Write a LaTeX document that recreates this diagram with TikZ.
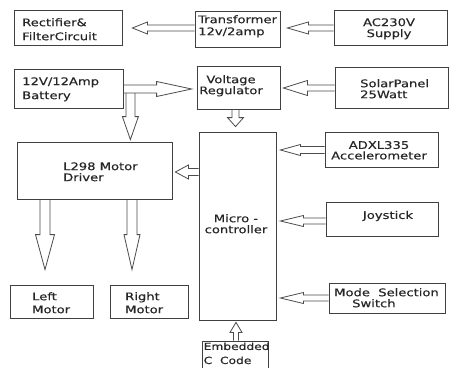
\documentclass[tikz,border=0pt]{standalone}
\usepackage{fontspec}
\newfontfamily\df[FakeStretch=1.25,FakeBold=0.3]{DejaVu Sans}
\usetikzlibrary{calc}
\tikzset{
  box/.style={draw=black!75, line width=0.8pt, inner sep=0pt},
  txt/.style={inner sep=0pt, text=black!85, font=\df\fontsize{10.5}{#1}\selectfont},
  txt/.default=12,
  arr/.style={draw=black!70, line width=0.8pt, line join=miter},
}
% start, tip, shaft half width, head half width, head length
\newcommand\barrow[5]{%
  \coordinate (bS) at #1;
  \coordinate (bT) at #2;
  \coordinate (bB) at ($(bT)!#5pt!(bS)$);
  \draw[arr] ($(bS)!#3pt!90:(bT)$) -- ($(bB)!#3pt!90:(bT)$) -- ($(bB)!#4pt!90:(bT)$)
     -- (bT) -- ($(bB)!#4pt!-90:(bT)$) -- ($(bB)!#3pt!-90:(bT)$) -- ($(bS)!#3pt!-90:(bT)$);
}
\begin{document}
\begin{tikzpicture}[x=1pt,y=-1pt]
\useasboundingbox[fill=white] (0,0) rectangle (449,367);
% boxes
\node[box, minimum width=108, minimum height=35] (rect)  at (68,27.5) {};
\node[box, minimum width=85,  minimum height=36] (trans) at (237.5,29) {};
\node[box, minimum width=113, minimum height=35] (ac)    at (390.5,27.5) {};
\node[box, minimum width=109, minimum height=39] (batt)  at (68.5,88.5) {};
\node[box, minimum width=83,  minimum height=43] (vreg)  at (238.5,87.5) {};
\node[box, minimum width=113, minimum height=41] (solar) at (391.5,87.5) {};
\node[box, minimum width=77,  minimum height=188] (micro) at (237.5,226) {};
\node[box, minimum width=155, minimum height=57] (l298)  at (94.5,170.5) {};
\node[box, minimum width=113, minimum height=35] (adxl)  at (381.5,149.5) {};
\node[box, minimum width=112, minimum height=34] (joy)   at (382,219) {};
\node[box, minimum width=116, minimum height=30] (mode)  at (387,298) {};
\node[box, minimum width=83,  minimum height=33] (left)  at (51.5,301.5) {};
\node[box, minimum width=78,  minimum height=33] (right) at (149,301.5) {};
\node[box, minimum width=66,  minimum height=30] (emb)   at (235,356) {};
% texts
\node[txt=14, anchor=west, align=left] (trect) at (22,29.3) {Rectifier\&\\FilterCircuit};
\node[txt=12, anchor=west, align=left] (ttrans) at (198,26.3) {Transformer\\12v/2amp};
\node[txt=11, align=center] (tac) at (389,28.8) {AC230V\\Supply};
\node[txt=14, anchor=west, align=left] (tbatt) at (22,89.3) {12V/12Amp\\Battery};
\node[txt=11, align=center] (tvreg) at (231,85.8) {Voltage\\Regulator};
\node[txt=11, anchor=west, align=left] (tsolar) at (360,88.8) {SolarPanel\\25Watt};
\node[txt=11, anchor=west, align=left] (tl298) at (63,171.8) {L298 Motor\\Driver};
\node[txt=11, align=center] (tmicro) at (236,223.8) {Micro -\\controller};
\node[txt=10.5, align=center] (tadxl) at (379,150.3) {ADXL335\\Accelerometer};
\node[txt] (tjoy) at (388,216) {Joystick};
\node[txt=11, anchor=west, align=left] (tmode) at (334,297.8) {Mode\ \ Selection\\\hspace*{18pt}Switch};
\node[txt=13, anchor=west, align=left] (tleft) at (32,302.8) {Left\\Motor};
\node[txt=13, anchor=west, align=left] (tright) at (125,302.8) {Right\\Motor};
\node[txt=14, anchor=west, align=left, font=\df\fontsize{9.8}{14}\selectfont] (temb) at (203.5,353.3) {Embedded\\C\ \ Code};
% arrows
\barrow{($(trans.west)+(0,-1)$)}{($(rect.east |- trans.west)+(10,-1)$)}{3}{6}{15}
\barrow{($(ac.west)+(0,0.5)$)}{($(trans.east |- ac.west)+(7,0.5)$)}{3}{6}{21}
\barrow{($(batt.east)+(0,0.5)$)}{($(vreg.west |- batt.east)+(-5,0.5)$)}{4}{7.5}{35}
\barrow{($(solar.west)+(0,0.5)$)}{($(vreg.east |- solar.west)+(3,0.5)$)}{3}{7.5}{24}
\barrow{($(batt.east)+(7,4.5)$)}{($(l298.north -| batt.east)+(7,-2)$)}{4.5}{8}{23}
\barrow{($(vreg.south)+(-3,0)$)}{($(micro.north)+(-2,-5)$)}{3.5}{8}{9}
\barrow{($(micro.west |- l298.east)+(0,1.5)$)}{($(l298.east)+(3,1.5)$)}{3.5}{7}{13}
\barrow{($(adxl.west)+(0,0.5)$)}{($(micro.east |- adxl.west)+(4,0.5)$)}{3.5}{5.5}{20}
\barrow{($(joy.west)+(0,2)$)}{($(micro.east |- joy.west)+(4,2)$)}{3}{5.5}{23}
\barrow{(mode.west)}{($(micro.east |- mode.west)+(4,0)$)}{3}{5.5}{23}
\barrow{($(emb.north)+(1,0)$)}{($(micro.south -| emb.north)+(1,2)$)}{2.5}{6}{10}
\barrow{($(l298.south -| left.north)+(-6.5,0)$)}{($(left.north)+(-6.5,-15)$)}{5}{9.5}{35}
\barrow{($(l298.south -| right.north)+(-17,0)$)}{($(right.north)+(-17,-15)$)}{5}{8}{35}
\end{tikzpicture}
\end{document}
